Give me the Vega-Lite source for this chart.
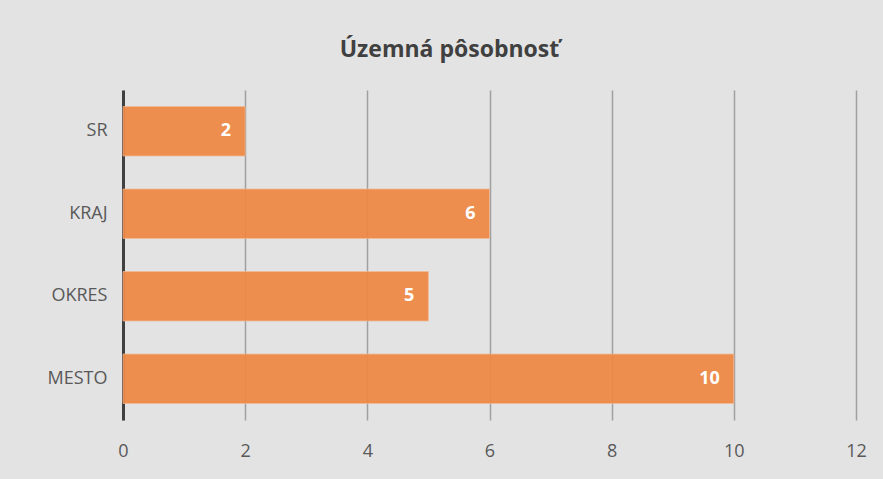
{
  "$schema": "https://vega.github.io/schema/vega-lite/v6.json",
  "autosize": {"type": "none"},
  "width": 733,
  "height": 330,
  "padding": {"left": 123, "top": 90, "right": 27, "bottom": 59},
  "background": "#e3e3e3",
  "title": {"text": "Územná pôsobnosť", "font": "Open Sans", "fontSize": 23, "fontWeight": "bold", "color": "#404040", "offset": 28, "dx": -40},
  "data": {"values": [
    {"kategoria": "SR", "pocet": 2},
    {"kategoria": "KRAJ", "pocet": 6},
    {"kategoria": "OKRES", "pocet": 5},
    {"kategoria": "MESTO", "pocet": 10}
  ]},
  "encoding": {
    "y": {"field": "kategoria", "type": "nominal", "sort": ["SR", "KRAJ", "OKRES", "MESTO"],
      "scale": {"paddingInner": 0.4, "paddingOuter": 0.2},
      "axis": {"title": null, "ticks": false, "domain": true, "domainColor": "#404040", "domainWidth": 3, "labelFont": "Open Sans", "labelFontSize": 18, "labelColor": "#595959", "labelPadding": 16}},
    "x": {"field": "pocet", "type": "quantitative",
      "scale": {"domain": [0, 12]},
      "axis": {"title": null, "values": [0, 2, 4, 6, 8, 10, 12], "ticks": false, "domain": false, "grid": true, "gridColor": "#a0a0a0", "gridWidth": 1.5, "labelFlush": false, "labelFont": "Open Sans", "labelFontSize": 18, "labelColor": "#595959", "labelPadding": 22}}
  },
  "layer": [
    {"mark": {"type": "bar", "color": "#EE8844", "opacity": 0.93, "stroke": "#f3b893", "strokeWidth": 0.75}},
    {"mark": {"type": "text", "align": "right", "dx": -14, "font": "Open Sans", "fontSize": 18, "fontWeight": "bold", "color": "white"},
      "encoding": {"text": {"field": "pocet", "type": "quantitative"}}}
  ],
  "config": {"view": {"stroke": null}}
}
